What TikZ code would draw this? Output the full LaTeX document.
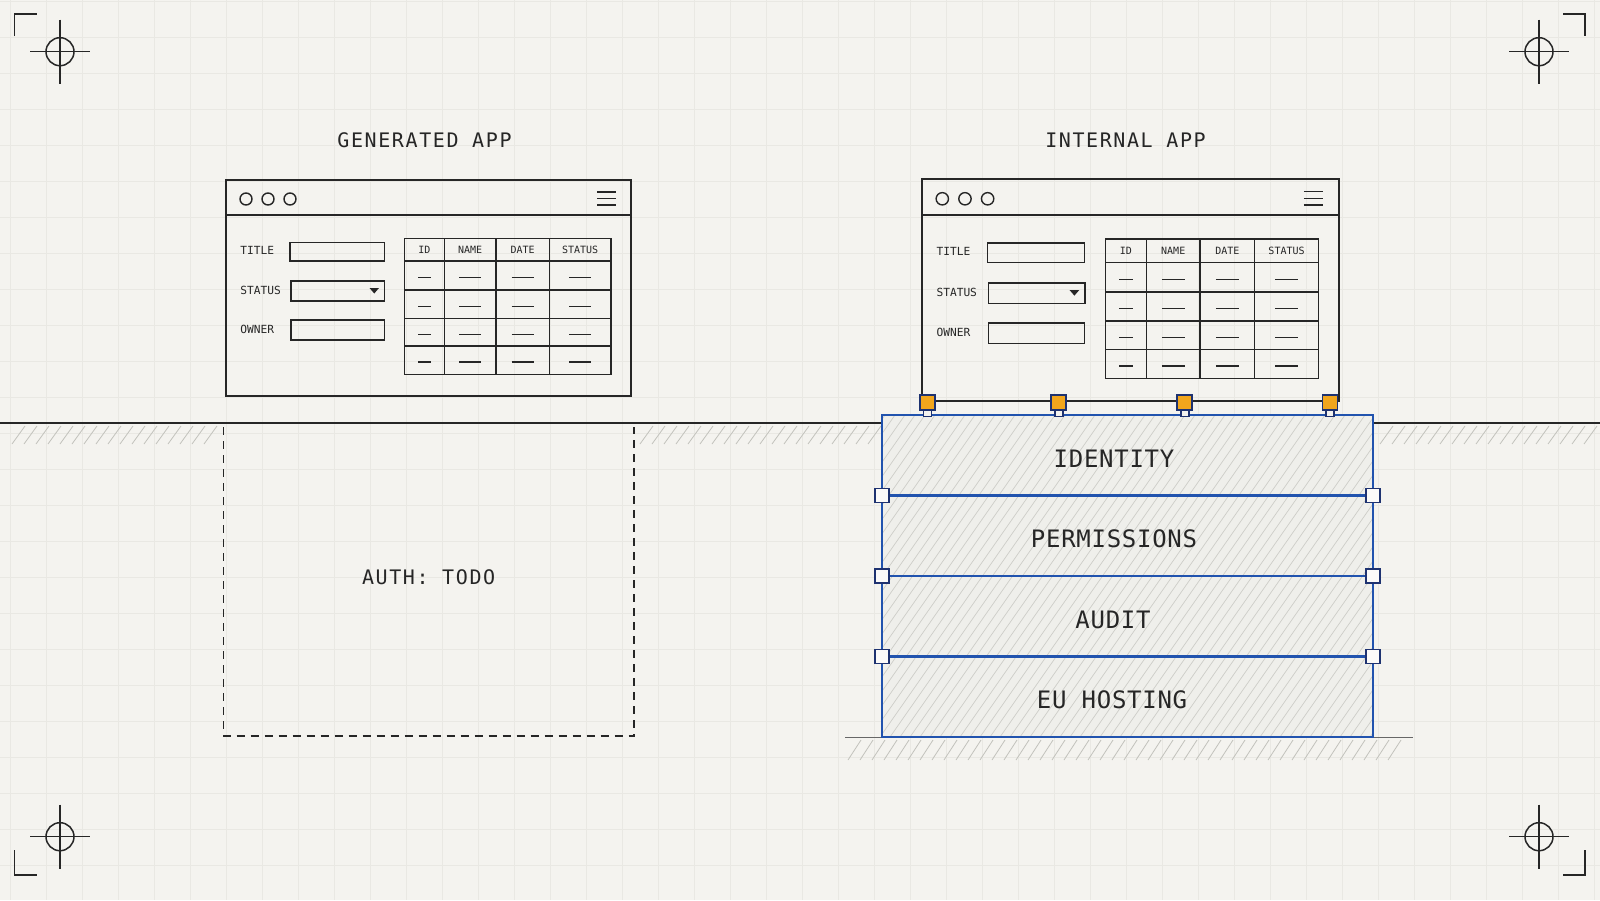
\documentclass[tikz,border=0pt]{standalone}
\usepackage{fontspec}
\usepackage{tikz}
\usepackage{xcolor}
\usetikzlibrary{positioning}
\setmainfont{DejaVu Sans Mono}
\newfontfamily\capsfont[LetterSpace=8]{DejaVu Sans Mono}
\newfontfamily\stackfont[LetterSpace=3]{DejaVu Sans Mono}
\definecolor{paper}{HTML}{F4F3EF}
\definecolor{gridline}{HTML}{E9E8E3}
\definecolor{ink}{HTML}{262626}
\definecolor{hatch}{HTML}{C2C2BC}
\definecolor{stackblue}{HTML}{2153AE}
\definecolor{navy}{HTML}{1E3270}
\definecolor{amber}{HTML}{F2A61C}
\definecolor{stackfill}{HTML}{EFEFEB}
\tikzstyle{heading}   = [font=\capsfont\fontsize{10}{12}\selectfont, text=ink, inner sep=0pt]
\tikzstyle{layer}     = [font=\stackfont\fontsize{12}{14}\selectfont, text=ink, inner sep=0pt]
\tikzstyle{formlabel} = [font=\fontsize{5.6}{7}\selectfont, text=ink, anchor=west, inner sep=0pt]
\tikzstyle{colhead}   = [font=\fontsize{5}{6}\selectfont, text=ink, inner sep=0pt]
\tikzstyle{frame}     = [draw=ink, line width=1pt]
\tikzstyle{thin}      = [draw=ink, line width=0.7pt]
\tikzstyle{ground}    = [draw=ink, line width=0.7pt]
\tikzstyle{hatchline} = [draw=hatch, line width=0.4pt]
\tikzstyle{slab}      = [draw=stackblue, line width=1.1pt]
\tikzstyle{pin}       = [rectangle, draw=navy, fill=amber, line width=0.9pt, minimum size=7.5pt, inner sep=0pt]
\tikzstyle{joint}     = [rectangle, draw=navy, fill=white!60!paper, line width=0.9pt, minimum size=7pt, inner sep=0pt]
\tikzstyle{stem}      = [draw=navy, fill=paper, line width=0.8pt]
\tikzstyle{reticle}   = [draw=ink, line width=0.75pt]
\newcommand{\appwindow}[1]{%
  \draw[frame] (0,0) rectangle (405,216);
  \draw[frame] (0,35) -- (405,35);
  \foreach \cx in {20,42,64} \draw[thin] (\cx,19) circle (6);
  \foreach \hy in {12,18.5,25} \draw[thin] (371,\hy) -- (390,\hy);
  \node[formlabel] (#1-ltitle) at (14,70.7) {TITLE};
  \node[formlabel] (#1-lstatus) at (14,110) {STATUS};
  \node[formlabel] (#1-lowner) at (14,149.3) {OWNER};
  \draw[thin] (64,62.3) rectangle (158.3,81);
  \draw[thin] (65,101) rectangle (158.7,121);
  \fill[ink] (143.5,108) -- (153,108) -- (148.25,113.5) -- cycle;
  \draw[thin] (65,140) rectangle (158.3,160);
  \draw[thin] (178.3,58.3) rectangle (385,194.3);
  \foreach \cx in {218.3,270,323.3} \draw[thin] (\cx,58.3) -- (\cx,194.3);
  \foreach \ry in {81,110,138.3,166} \draw[thin] (178.3,\ry) -- (385,\ry);
  \node[colhead] (#1-hid) at (198.3,69.7) {ID};
  \node[colhead] (#1-hname) at (244.2,69.7) {NAME};
  \node[colhead] (#1-hdate) at (296.7,69.7) {DATE};
  \node[colhead] (#1-hstatus) at (354.2,69.7) {STATUS};
  \foreach \ry in {97.5,126.2,154.2,182} {
    \draw[thin] (192,\ry) -- (205,\ry);
    \foreach \cx in {244.2,296.7,354.2} \draw[thin] (\cx-11,\ry) -- (\cx+11,\ry);
  }%
}

\begin{document}
\begin{tikzpicture}[x=0.5pt, y=-0.5pt]
    \fill[paper] (0,0) rectangle (1600,900);
    \useasboundingbox (0,0) rectangle (1600,900);
    \foreach \gx in {10,46,...,1594} \draw[gridline, line width=0.4pt] (\gx,0) -- (\gx,900);
    \foreach \gy in {1,37,...,899} \draw[gridline, line width=0.4pt] (0,\gy) -- (1600,\gy);

    \draw[ground] (0,423) -- (1600,423);
    \foreach \hx in {12,24,...,205} \draw[hatchline] (\hx,444) -- (\hx+13,426);
    \foreach \hx in {640,652,...,868} \draw[hatchline] (\hx,444) -- (\hx+13,426);
    \foreach \hx in {1380,1392,...,1590} \draw[hatchline] (\hx,444) -- (\hx+13,426);
    \draw[ground, draw=ink!70] (845,737.5) -- (1413,737.5);
    \foreach \hx in {848,860,...,1392} \draw[hatchline] (\hx,760) -- (\hx+13,740);

    \node[heading] (genhead) at (424.5,139.8) {GENERATED APP};
    \node[heading] (inthead) at (1125.5,139.8) {INTERNAL APP};

    \begin{scope}[shift={(226,180)}]
        \appwindow{gen}
    \end{scope}
    \begin{scope}[shift={(921.7,179.3)}, xscale=1.03, yscale=1.025]
        \appwindow{int}
    \end{scope}

    \draw[thin, dash pattern=on 4pt off 3pt] (223.5,427) -- (223.5,736) -- (634,736) -- (634,427);
    \node[heading] (authtodo) at (428.6,577.6) {AUTH: TODO};

    \begin{scope}
        \clip (881.7,415) rectangle (1373.3,737);
        \fill[stackfill] (881.7,415) rectangle (1373.3,737);
        \foreach \hx in {650,660,...,1380} \draw[hatchline, draw=hatch!75!stackfill, line width=0.35pt] (\hx,737) -- (\hx+225,415);
    \end{scope}
    \draw[slab] (881.7,415) rectangle (1373.3,737);
    \foreach \dy/\i in {495.5/1,576/2,656.5/3} {
        \draw[slab] (881.7,\dy) -- (1373.3,\dy);
        \node[joint] (jl\i) at (881.7,\dy) {};
        \node[joint] (jr\i) at (1373.3,\dy) {};
    }
    \foreach \px/\i in {927.3/1,1058.7/2,1184.7/3,1330/4} {
        \draw[stem] (\px-4,410) rectangle (\px+4,416.5);
        \node[pin] (pin\i) at (\px,402.3) {};
    }

    \node[layer] (identity) at (1114,459) {IDENTITY};
    \node[layer] (permissions) at (1114,539) {PERMISSIONS};
    \node[layer] (audit) at (1113,620) {AUDIT};
    \node[layer] (euhosting) at (1112,700) {EU HOSTING};

    \foreach \cx/\cy in {60/51.7,1539/51.7,60/836.7,1539/836.7} {
        \draw[reticle] (\cx,\cy) circle (14);
        \draw[reticle] (\cx-30,\cy) -- (\cx+30,\cy);
        \draw[reticle] (\cx,\cy-32) -- (\cx,\cy+32);
    }
    \draw[reticle] (14.5,36) -- (14.5,14) -- (36.7,14);
    \draw[reticle] (1563,14) -- (1585,14) -- (1585,36);
    \draw[reticle] (14.5,850) -- (14.5,875) -- (36.7,875);
    \draw[reticle] (1563,875) -- (1585,875) -- (1585,850);
\end{tikzpicture}
\end{document}
